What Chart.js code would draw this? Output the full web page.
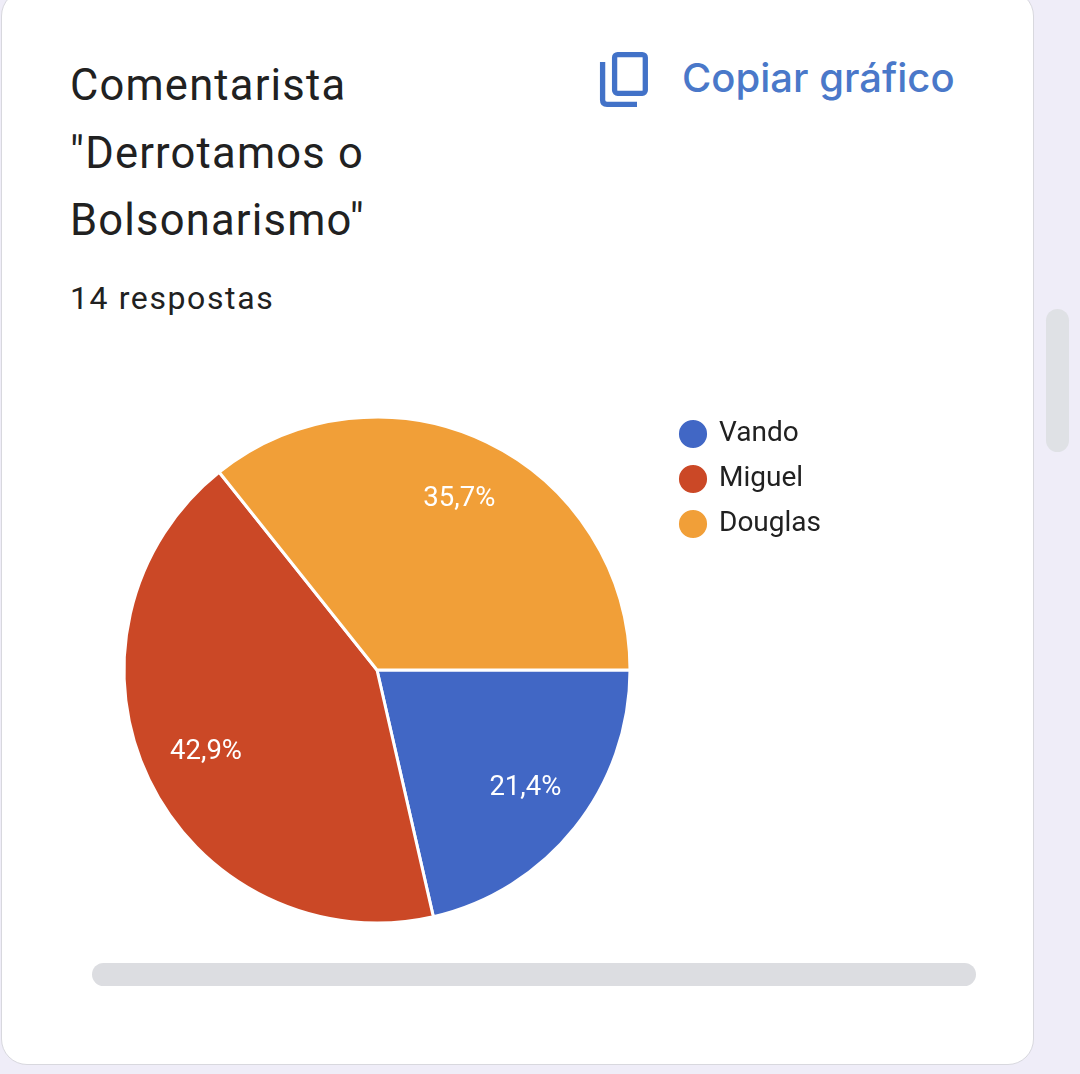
<!DOCTYPE html>
<html lang="pt">
<head>
  <meta charset="UTF-8">
  <title>Comentarista</title>
  <script src="https://cdn.jsdelivr.net/npm/chart.js"></script>
  <style>
    html, body { margin: 0; padding: 0; }
    body {
      width: 1080px;
      height: 1074px;
      position: relative;
      overflow: hidden;
      background: #efedf8;
      font-family: Roboto, sans-serif;
      color: #212121;
    }
    .card {
      position: absolute;
      left: 1px;
      top: -10px;
      width: 1031px;
      height: 1073px;
      background: #fff;
      border: 1.5px solid #d8d8de;
      border-radius: 26px;
    }
    .title {
      position: absolute;
      left: 70px;
      top: 52px;
      font-size: 43.5px;
      line-height: 67.5px;
      letter-spacing: 1.2px;
    }
    .count {
      position: absolute;
      left: 70px;
      top: 279px;
      font-size: 32px;
      line-height: 38px;
      letter-spacing: 1.6px;
    }
    .copy {
      position: absolute;
      left: 682px;
      top: 54px;
      font-family: Inter, sans-serif;
      font-size: 40px;
      line-height: 48px;
      font-weight: 500;
      color: #4a78c9;
      white-space: nowrap;
    }
    .icon { position: absolute; left: 596px; top: 48px; }
    .hbar {
      position: absolute; left: 92px; top: 963px; width: 884px; height: 23px;
      background: #dcdde1; border-radius: 12px;
    }
    .vbar {
      position: absolute; left: 1046px; top: 309px; width: 23px; height: 143px;
      background: #dfe1e5; border-radius: 12px;
    }
    canvas { position: absolute; left: 90px; top: 403px; }
  </style>
</head>
<body>
  <div class="card"></div>
  <div class="title">Comentarista<br>"Derrotamos o<br>Bolsonarismo"</div>
  <div class="count">14 respostas</div>
  <svg class="icon" width="56" height="64" viewBox="0 0 56 64" fill="none" stroke="#4272c8" stroke-width="5.3">
    <rect x="18.6" y="6.6" width="30.7" height="38.7" rx="3"/>
    <path d="M6.6 14 V52 Q6.6 56.4 11 56.4 H41"/>
  </svg>
  <div class="copy">Copiar gráfico</div>
  <div class="hbar"></div>
  <div class="vbar"></div>
  <canvas id="pie" width="741" height="534"></canvas>

  <script>
    const categories = ['Vando', 'Miguel', 'Douglas'];
    const responses = [3, 6, 5];
    const percentLabels = ['21,4%', '42,9%', '35,7%'];
    const sliceColors = ['#4167c5', '#cb4826', '#f19f38'];

    // percent text inside the slices
    const sliceLabels = {
      id: 'sliceLabels',
      afterDatasetsDraw(chart) {
        const ctx = chart.ctx;
        ctx.save();
        ctx.fillStyle = '#fff';
        ctx.font = '27.5px Roboto';
        ctx.textAlign = 'center';
        ctx.textBaseline = 'middle';
        chart.getDatasetMeta(0).data.forEach((arc, i) => {
          const mid = (arc.startAngle + arc.endAngle) / 2;
          const r = arc.outerRadius * 0.75;
          ctx.fillText(percentLabels[i], arc.x + Math.cos(mid) * r, arc.y + Math.sin(mid) * r);
        });
        ctx.restore();
      }
    };

    new Chart(document.getElementById('pie'), {
      type: 'pie',
      data: {
        labels: categories,
        datasets: [{
          data: responses,
          backgroundColor: sliceColors,
          borderColor: '#fff',
          borderWidth: 3,
          radius: 253
        }]
      },
      plugins: [sliceLabels],
      options: {
        responsive: false,
        animation: false,
        rotation: 90,
        plugins: {
          tooltip: { enabled: false },
          legend: {
            position: 'right',
            align: 'start',
            labels: {
              usePointStyle: true,
              pointStyle: 'circle',
              boxHeight: 22,
              boxWidth: 24,
              padding: 17,
              color: '#212121',
              font: { family: 'Roboto', size: 28 }
            }
          }
        }
      }
    });
  </script>
</body>
</html>
